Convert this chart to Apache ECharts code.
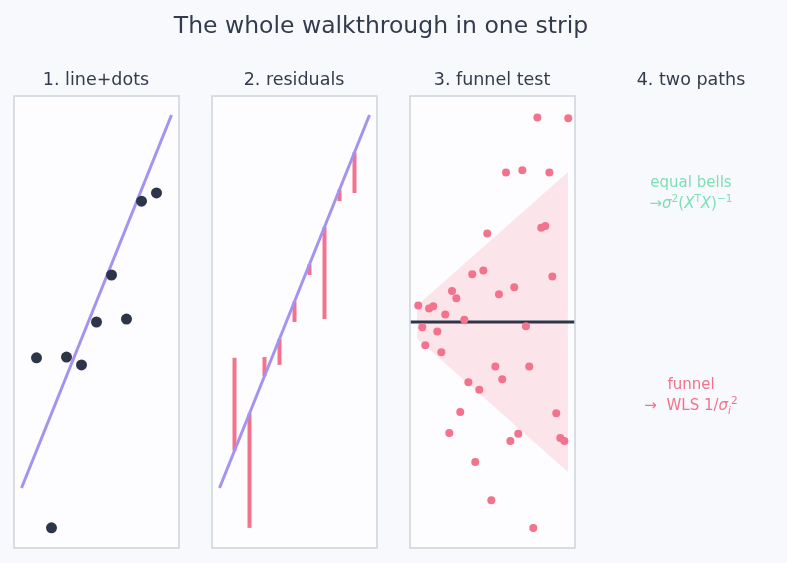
<!DOCTYPE html>
<html>
<head>
<meta charset="utf-8">
<script src="https://cdn.jsdelivr.net/npm/echarts@6/dist/echarts.min.js"></script>
<style>
  html, body { margin: 0; padding: 0; background: #f8f9fc; }
  #chart { width: 787px; height: 563px; }
</style>
</head>
<body>
<div id="chart"></div>
<script>
// panel 1 + 2: dots and the straight line through them
const dotX = [1, 2, 3, 4, 5, 6, 7, 8, 9]
const dotY = [4.49, -0.07, 4.51, 4.3, 5.45, 6.71, 5.53, 8.69, 8.91]
const fitX = [0, 10]
const fitY = [1, 11]

// panel 3: residuals vs fitted, with the funnel band
const resX = [8.49, 10.55, 6.4, 7.49, 9.29, 8.75, 9.02, 5.15, 4.15, 4.89,
  9.49, 6.95, 2.8, 3.09, 5.93, 0.55, 1.27, 1.55, 2.35, 3.62,
  0.82, 1.82, 7.73, 1.02, 2.09, 5.69, 7.95, 6.15, 3.89, 4.62,
  3.35, 9.75, 2.62, 7.22, 6.69, 10.02, 10.29, 4.35, 5.42, 8.22]
const resY = [5.43, 5.41, 3.97, 4.03, 3.97, 2.5, 2.55, 2.35, 1.27, 1.37,
  1.21, 0.92, 0.82, 0.63, 0.74, 0.44, 0.36, 0.42, 0.2, 0.06,
  -0.14, -0.25, -0.11, -0.62, -0.8, -1.18, -1.18, -1.52, -1.6, -1.8,
  -2.39, -2.42, -2.95, -2.97, -3.16, -3.08, -3.16, -3.72, -4.73, -5.47]
const funnelX = [0.47, 10.53]
const funnelHalf = [0.44, 3.98]
const zeroX = [0.05, 10.95]

const titles = ['1. line+dots', '2. residuals', '3. funnel test', '4. two paths']

const ink = '#333c4d'
const lavender = '#a493f0'
const pink = '#f2738b'
const mint = '#7ddfb5'

const lineAt = (x) => fitY[0] + (fitY[1] - fitY[0]) * (x - fitX[0]) / (fitX[1] - fitX[0])

const chart = echarts.init(document.getElementById('chart'))

const panelLeft = [14, 212, 410]
const grids = panelLeft.map((left) => ({
  left: left, top: 96, width: 165, height: 452,
  show: true, backgroundColor: '#fdfdff', borderColor: '#cdd4dd', borderWidth: 1.5
}))

const xAxes = [
  { gridIndex: 0, type: 'value', min: -0.5, max: 10.5, show: false },
  { gridIndex: 1, type: 'value', min: -0.5, max: 10.5, show: false },
  { gridIndex: 2, type: 'value', min: 0, max: 11, show: false }
]
const yAxes = [
  { gridIndex: 0, type: 'value', min: -0.61, max: 11.51, show: false },
  { gridIndex: 1, type: 'value', min: -0.61, max: 11.51, show: false },
  { gridIndex: 2, type: 'value', min: -6, max: 6, show: false }
]

// title boxes carry 5px padding, so centres are shifted back by 5
const titleComps = [
  { text: 'The whole walkthrough in one strip', left: 376, top: 10, textAlign: 'center',
    textStyle: { fontFamily: 'DejaVu Sans', fontSize: 23.5, fontWeight: 'normal', color: ink } }
]
const titleCenters = [96, 294, 492, 691]
titles.forEach((t, i) => {
  titleComps.push({
    text: t, left: titleCenters[i] - 5, top: 66, textAlign: 'center',
    textStyle: { fontFamily: 'DejaVu Sans', fontSize: 17.5, fontWeight: 'normal', color: ink }
  })
})

const richFor = (color) => ({
  n: { fontFamily: 'DejaVu Sans', fontSize: 15, fontWeight: 'normal', color: color, lineHeight: 21 },
  i: { fontFamily: 'DejaVu Sans', fontSize: 15, fontWeight: 'normal', fontStyle: 'italic', color: color, lineHeight: 21 },
  sup: { fontFamily: 'DejaVu Sans', fontSize: 10.5, fontWeight: 'normal', color: color, verticalAlign: 'top', lineHeight: 21 },
  sub: { fontFamily: 'DejaVu Sans', fontSize: 10.5, fontWeight: 'normal', fontStyle: 'italic', color: color, verticalAlign: 'bottom', lineHeight: 19 }
})

titleComps.push({
  text: '{n|equal bells}\n{n|→}{i|σ}{sup|2}{n|(}{i|X}{sup|T}{i|X}{n|)}{sup|−1}',
  left: 686, top: 168, textAlign: 'center',
  textStyle: { align: 'center', fontWeight: 'normal', rich: richFor(mint) }
})
titleComps.push({
  text: '{n|funnel}\n{n|→  WLS 1/}{i|σ}{sub|i}{sup|2}',
  left: 686, top: 370, textAlign: 'center',
  textStyle: { align: 'center', fontWeight: 'normal', rich: richFor(pink) }
})

const series = [
  // panel 1
  {
    type: 'line', xAxisIndex: 0, yAxisIndex: 0, z: 2,
    data: fitX.map((x, i) => [x, fitY[i]]),
    symbol: 'none', lineStyle: { color: lavender, width: 3 }
  },
  {
    type: 'scatter', xAxisIndex: 0, yAxisIndex: 0, z: 3,
    data: dotX.map((x, i) => [x, dotY[i]]),
    symbolSize: 11, itemStyle: { color: '#2d3648', opacity: 1 }
  },
  // panel 2
  {
    type: 'custom', xAxisIndex: 1, yAxisIndex: 1, z: 2,
    data: dotX.map((x, i) => [x, dotY[i], lineAt(x)]),
    renderItem: (params, api) => {
      const a = api.coord([api.value(0), api.value(1)])
      const b = api.coord([api.value(0), api.value(2)])
      return {
        type: 'line',
        shape: { x1: a[0], y1: a[1], x2: b[0], y2: b[1] },
        style: { stroke: pink, lineWidth: 4 }
      }
    }
  },
  {
    type: 'line', xAxisIndex: 1, yAxisIndex: 1, z: 3,
    data: fitX.map((x, i) => [x, fitY[i]]),
    symbol: 'none', lineStyle: { color: lavender, width: 3 }
  },
  // panel 3
  {
    type: 'custom', xAxisIndex: 2, yAxisIndex: 2, z: 1,
    data: [[funnelX[0], 0]],
    renderItem: (params, api) => {
      const pts = [
        [funnelX[0], funnelHalf[0]], [funnelX[1], funnelHalf[1]],
        [funnelX[1], -funnelHalf[1]], [funnelX[0], -funnelHalf[0]]
      ].map((p) => api.coord(p))
      return {
        type: 'polygon',
        shape: { points: pts },
        style: { fill: 'rgba(242,115,139,0.17)' }
      }
    }
  },
  {
    type: 'line', xAxisIndex: 2, yAxisIndex: 2, z: 2,
    data: zeroX.map((x) => [x, 0]),
    symbol: 'none', lineStyle: { color: '#2d3648', width: 3 }
  },
  {
    type: 'scatter', xAxisIndex: 2, yAxisIndex: 2, z: 3,
    data: resX.map((x, i) => [x, resY[i]]),
    symbolSize: 8, itemStyle: { color: pink, opacity: 1 }
  }
]

chart.setOption({
  backgroundColor: '#f8f9fc',
  animation: false,
  title: titleComps,
  grid: grids,
  xAxis: xAxes,
  yAxis: yAxes,
  series: series
})
</script>
</body>
</html>
